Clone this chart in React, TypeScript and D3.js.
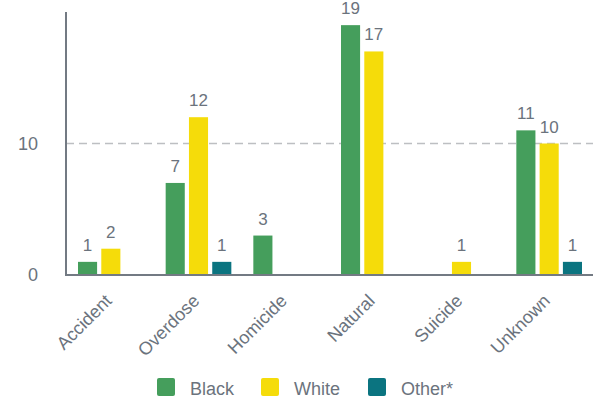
import React from "react";
import * as d3 from "d3";

const categories = ["Accident", "Overdose", "Homicide", "Natural", "Suicide", "Unknown"];
const seriesNames = ["Black", "White", "Other*"];
const blackValues = [1, 7, 3, 19, 0, 11];
const whiteValues = [2, 12, 0, 17, 1, 10];
const otherValues = [0, 1, 0, 0, 0, 1];
const yTicks = [0, 10];
const colors = ["#459e5c", "#f5dc0a", "#0b7480"];

const W = 601;
const H = 401;
const left = 66;
const right = 593;
const top = 12;
const bottom = 275;
const textColor = "#6b737d";
const font = "Liberation Sans, Arial, Helvetica, sans-serif";

export default function App() {
  const series = [blackValues, whiteValues, otherValues];
  const x0 = d3.scaleBand<string>().domain(categories).range([left + 1, right]).padding(0);
  const inner = 11;
  const x1 = d3
    .scaleBand<number>()
    .domain([0, 1, 2])
    .range([inner, x0.bandwidth() - inner])
    .paddingInner(0.18)
    .paddingOuter(0);
  const y = d3.scaleLinear().domain([0, 20]).range([bottom, top]);

  const legendItems = [
    { name: seriesNames[0], x: 157 },
    { name: seriesNames[1], x: 261 },
    { name: seriesNames[2], x: 368 },
  ];

  return (
    <svg width={W} height={H} style={{ position: "absolute", left: 0, top: 0 }} fontFamily={font}>
      {/* grid */}
      {yTicks
        .filter((t) => t !== 0)
        .map((t) => (
          <line
            key={"g" + t}
            x1={left}
            x2={right}
            y1={y(t)}
            y2={y(t)}
            stroke="#bdbfc2"
            strokeWidth={1.5}
            strokeDasharray="8,5"
          />
        ))}
      {/* y tick labels */}
      {yTicks.map((t) => (
        <text
          key={"t" + t}
          x={38}
          y={y(t)}
          dy="0.35em"
          textAnchor="end"
          fontSize={18}
          fill={textColor}
        >
          {t}
        </text>
      ))}
      {/* bars */}
      {categories.map((c, ci) => (
        <g key={c} transform={`translate(${x0(c)},0)`}>
          {series.map((vals, si) =>
            vals[ci] > 0 ? (
              <g key={si}>
                <rect
                  x={x1(si)}
                  y={y(vals[ci])}
                  width={x1.bandwidth()}
                  height={y(0) - y(vals[ci])}
                  fill={colors[si]}
                />
                <text
                  x={(x1(si) as number) + x1.bandwidth() / 2}
                  y={y(vals[ci]) - 11}
                  textAnchor="middle"
                  fontSize={17}
                  fill={textColor}
                >
                  {vals[ci]}
                </text>
              </g>
            ) : null
          )}
        </g>
      ))}
      {/* axes */}
      <line x1={left} x2={left} y1={top} y2={bottom + 1} stroke="#737a83" strokeWidth={2} />
      <line x1={left} x2={right} y1={bottom} y2={bottom} stroke="#737a83" strokeWidth={2} />
      {/* x labels */}
      {categories.map((c) => {
        const cx = (x0(c) as number) + x0.bandwidth() / 2 + 2;
        const cy = 302;
        return (
          <text
            key={"l" + c}
            transform={`translate(${cx},${cy}) rotate(-45)`}
            textAnchor="end"
            fontSize={18}
            fill={textColor}
          >
            {c}
          </text>
        );
      })}
      {/* legend */}
      {legendItems.map((it, i) => (
        <g key={it.name} transform={`translate(${it.x},378)`}>
          <rect width={18} height={18} rx={2} fill={colors[i]} />
          <text x={33} y={17} fontSize={18} fill={textColor}>
            {it.name}
          </text>
        </g>
      ))}
    </svg>
  );
}
